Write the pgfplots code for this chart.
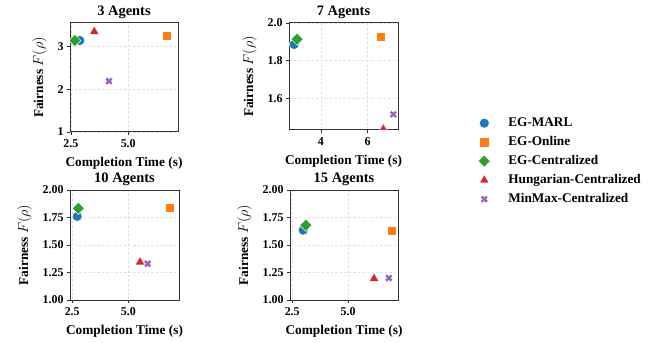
\documentclass[border=0pt]{standalone}
\usepackage{fontspec}
\setmainfont{Liberation Serif}
\usepackage{pgfplots}
\pgfplotsset{compat=1.18}
\definecolor{cA}{HTML}{1F77B4}
\definecolor{cB}{HTML}{FF7F0E}
\definecolor{cC}{HTML}{2CA02C}
\definecolor{cD}{HTML}{D62728}
\definecolor{cE}{HTML}{9467BD}
\pgfplotsset{
  myax/.style={
    scale only axis,
    clip marker paths=true,
    axis line style={draw=black!80, line width=1bp},
    grid=major,
    major grid style={dash pattern=on 2.5bp off 2bp, draw=black!12, line width=0.6bp},
    tick align=outside,
    major tick length=3bp,
    tick style={draw=black!80, line width=0.8bp},
    xtick pos=left, ytick pos=left,
    /pgf/number format/assume math mode=true,
    tick label style={font=\bfseries\fontsize{12}{12}\selectfont},
    xticklabel style={yshift=-1.5bp},
    label style={font=\bfseries\fontsize{13.4}{14}\selectfont},
    xlabel style={yshift=-2.5bp},
    ylabel style={yshift=4bp},
    title style={font=\bfseries\fontsize{14.5}{15}\selectfont, yshift=-5.5bp},
    xlabel={Completion Time (s)},
    ylabel={Fairness $F(\rho)$},
    only marks,
  },
  sA/.style={mark=*, mark size=5bp, mark options={fill=cA, draw=white, line width=0.5bp}},
  sB/.style={mark=square*, mark size=4.6bp, mark options={fill=cB, draw=white, line width=0.5bp}},
  sC/.style={mark=square*, mark size=4.3bp, mark options={rotate=45, fill=cC, draw=white, line width=0.5bp}},
  sD/.style={mark=triangle*, mark size=5.6bp, mark options={fill=cD, draw=white, line width=0.5bp}},
  sE/.style={mark=x, mark size=3.8bp, mark options={draw=cE, line width=2.4bp}},
}
\begin{document}
\begin{tikzpicture}
\path[use as bounding box] (0,0) rectangle (662bp,343bp);
% 3 Agents
\begin{axis}[myax, at={(70bp,211bp)}, anchor=south west, width=108bp, height=109bp,
  title={3 Agents}, xmin=2.46, xmax=7.17, ymin=1, ymax=3.55,
  xtick={2.5,5.0}, xticklabel style={/pgf/number format/.cd, fixed, fixed zerofill, precision=1},
  ytick={1,2,3}]
\addplot[sA] coordinates {(2.89,3.14)};
\addplot[sB] coordinates {(6.68,3.25)};
\addplot[sC] coordinates {(2.67,3.14)};
\addplot[sD] coordinates {(3.52,3.35)};
\addplot[sE] coordinates {(4.16,2.19)};
\end{axis}
% 7 Agents
\begin{axis}[myax, at={(289bp,213bp)}, anchor=south west, width=109bp, height=107bp,
  title={7 Agents}, xmin=2.63, xmax=7.3, ymin=1.432, ymax=2.0,
  xtick={4,6}, ytick={1.6,1.8,2.0},
  yticklabel style={/pgf/number format/.cd, fixed, fixed zerofill, precision=1}]
\addplot[sA] coordinates {(2.85,1.886)};
\addplot[sB] coordinates {(6.56,1.926)};
\addplot[sC] coordinates {(2.98,1.914)};
\addplot[sD] coordinates {(6.67,1.437)};
\addplot[sE] coordinates {(7.10,1.515)};
\end{axis}
% 10 Agents
\begin{axis}[myax, at={(70bp,43bp)}, anchor=south west, width=109bp, height=110bp,
  title={10 Agents}, xmin=2.40, xmax=7.26, ymin=1, ymax=2,
  xtick={2.5,5.0}, xticklabel style={/pgf/number format/.cd, fixed, fixed zerofill, precision=1},
  ytick={1,1.25,1.5,1.75,2}, yticklabel style={/pgf/number format/.cd, fixed, fixed zerofill, precision=2}]
\addplot[sA] coordinates {(2.72,1.76)};
\addplot[sB] coordinates {(6.83,1.84)};
\addplot[sC] coordinates {(2.77,1.833)};
\addplot[sD] coordinates {(5.52,1.345)};
\addplot[sE] coordinates {(5.86,1.33)};
\end{axis}
% 15 Agents
\begin{axis}[myax, at={(290bp,43bp)}, anchor=south west, width=108bp, height=110bp,
  title={15 Agents}, xmin=2.40, xmax=7.23, ymin=1, ymax=2,
  xtick={2.5,5.0}, xticklabel style={/pgf/number format/.cd, fixed, fixed zerofill, precision=1},
  ytick={1,1.25,1.5,1.75,2}, yticklabel style={/pgf/number format/.cd, fixed, fixed zerofill, precision=2},
  legend style={at={(1.713,1.70)}, anchor=north west, draw=none, fill=none,
    font=\bfseries\fontsize{13.3}{14}\selectfont,
    nodes={font=\bfseries\fontsize{13.3}{14}\selectfont, inner sep=2bp, text height=9bp, text depth=3bp},
    row sep=3bp,
    /tikz/every odd column/.append style={column sep=16bp}},
  legend cell align=left]
\addplot[sA] coordinates {(2.99,1.635)};
\addlegendentry{EG-MARL}
\addplot[sB] coordinates {(6.94,1.63)};
\addlegendentry{EG-Online}
\addplot[sC] coordinates {(3.11,1.68)};
\addlegendentry{EG-Centralized}
\addplot[sD] coordinates {(6.16,1.195)};
\addlegendentry{Hungarian-Centralized}
\addplot[sE] coordinates {(6.82,1.20)};
\addlegendentry{MinMax-Centralized}
\end{axis}
\end{tikzpicture}
\end{document}
